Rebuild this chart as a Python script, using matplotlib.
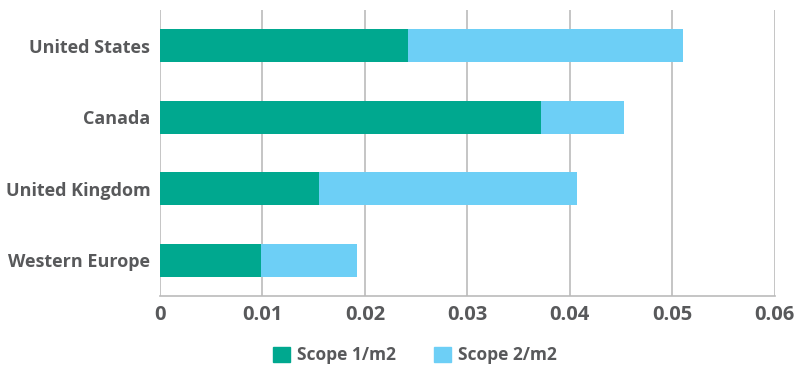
import numpy as np
import matplotlib.pyplot as plt
from matplotlib.patches import Patch

regions = ['United States', 'Canada', 'United Kingdom', 'Western Europe']
scope1 = [0.0242, 0.0372, 0.0155, 0.0099]
scope2 = [0.0268, 0.0081, 0.0252, 0.0093]
xticks = [0, 0.01, 0.02, 0.03, 0.04, 0.05, 0.06]
xticklabels = ['0', '0.01', '0.02', '0.03', '0.04', '0.05', '0.06']

green = '#00a88f'
blue = '#6dcff6'
grey = '#bbbbbb'
text_col = '#58595b'

plt.rcParams['font.family'] = ['Open Sans', 'DejaVu Sans']

fig = plt.figure(figsize=(7.98, 3.67), dpi=100)
ax = fig.add_axes([0.2005, 0.193, 0.7705, 0.78])

y = np.arange(len(regions))
ax.barh(y, scope1, height=0.46, color=green, zorder=3)
ax.barh(y, scope2, left=scope1, height=0.46, color=blue, zorder=3)

ax.set_ylim(3.5, -0.5)
ax.set_xlim(0, 0.06)
ax.set_xticks(xticks)
ax.set_xticklabels(xticklabels, fontsize=14.5, fontweight='bold', color=text_col)
ax.set_yticks(y)
ax.set_yticklabels(regions, fontsize=13, fontweight='bold', color=text_col)
ax.tick_params(length=0, pad=6)
ax.tick_params(axis='y', pad=7)

ax.grid(axis='x', color=grey, linewidth=1.2, zorder=0)
for s in ['top', 'right', 'left']:
    ax.spines[s].set_visible(False)
ax.spines['bottom'].set_color(grey)
ax.spines['bottom'].set_linewidth(1.2)

handles = [Patch(color=green, label='Scope 1/m2'), Patch(color=blue, label='Scope 2/m2')]
fig.legend(handles=handles, loc='lower center', bbox_to_anchor=(0.52, -0.035), ncol=2,
           frameon=False, prop={'size': 12.5, 'weight': 'bold'}, labelcolor=text_col,
           handlelength=1.0, handleheight=1.0, handletextpad=0.4, columnspacing=2.2)

fig.savefig('out.png', dpi=100)
